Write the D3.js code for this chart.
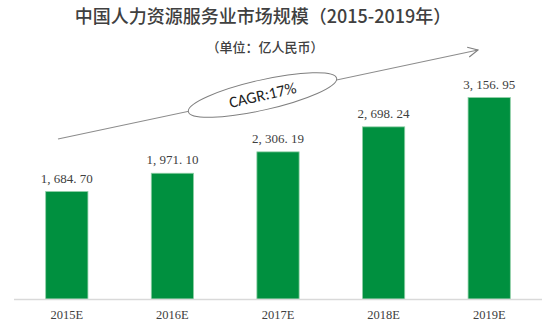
<!DOCTYPE html>
<html>
<head>
<meta charset="utf-8">
<script src="https://cdn.jsdelivr.net/npm/d3@7/dist/d3.min.js"></script>
<style>
  html, body { margin: 0; padding: 0; background: #fff; }
  svg { display: block; }
</style>
</head>
<body>
<svg id="chart" width="546" height="327"></svg>
<script>
// Market size of China's HR services industry, 2015–2019 (100 million RMB)
const years = ["2015E", "2016E", "2017E", "2018E", "2019E"];
const marketSize = [1684.70, 1971.10, 2306.19, 2698.24, 3156.95];
const titleText = "中国人力资源服务业市场规模（2015-2019年）";
const unitText = "（单位：亿人民币）";
const cagrText = "CAGR:17%";

const svg = d3.select("#chart");
const baseY = 299;

const x = d3.scaleBand()
  .domain(years)
  .range([14, 542])
  .paddingInner(0.6)
  .paddingOuter(0.3);

const y = d3.scaleLinear()
  .domain([0, 3500])
  .range([baseY, baseY - 3500 * 0.0638]);

// Title and unit
svg.append("text")
  .attr("x", 263).attr("y", 23)
  .attr("text-anchor", "middle")
  .attr("font-family", "'Noto Sans CJK SC', sans-serif")
  .attr("font-size", 18)
  .attr("font-weight", 500)
  .attr("fill", "#404040")
  .text(titleText);

svg.append("text")
  .attr("x", 265).attr("y", 52)
  .attr("text-anchor", "middle")
  .attr("font-family", "'Noto Sans CJK SC', sans-serif")
  .attr("font-size", 13)
  .attr("font-weight", 500)
  .attr("fill", "#404040")
  .text(unitText);

// Growth arrow with CAGR ellipse
const defs = svg.append("defs");
defs.append("marker")
  .attr("id", "chev")
  .attr("viewBox", "0 0 12 12")
  .attr("refX", 11).attr("refY", 6)
  .attr("markerWidth", 12).attr("markerHeight", 12)
  .attr("markerUnits", "userSpaceOnUse")
  .attr("orient", "auto")
  .append("path")
  .attr("d", "M1,1 L11,6 L1,11")
  .attr("fill", "none")
  .attr("stroke", "#7f7f7f")
  .attr("stroke-width", 1.1);

svg.append("line")
  .attr("x1", 58).attr("y1", 139)
  .attr("x2", 478).attr("y2", 50)
  .attr("stroke", "#8c8c8c")
  .attr("stroke-width", 1.1)
  .attr("marker-end", "url(#chev)");

const cg = svg.append("g").attr("transform", "translate(262.5,95) rotate(-12.8)");
cg.append("ellipse")
  .attr("rx", 76).attr("ry", 15)
  .attr("fill", "#fff")
  .attr("stroke", "#7f7f7f")
  .attr("stroke-width", 1);
cg.append("text")
  .attr("x", 0).attr("y", 5.5)
  .attr("text-anchor", "middle")
  .attr("font-family", "Carlito, 'Open Sans', sans-serif")
  .attr("font-size", 16)
  .attr("fill", "#222")
  .text(cagrText);

// Bars
svg.append("g").selectAll("rect")
  .data(marketSize)
  .join("rect")
  .attr("x", (d, i) => x(years[i]))
  .attr("y", d => y(d))
  .attr("width", x.bandwidth())
  .attr("height", d => baseY - y(d))
  .attr("fill", "#00903f")
  .attr("stroke", "#8fcfa6")
  .attr("stroke-width", 0.8);

// Value labels
const fmt = d3.format(",.2f");
svg.append("g").selectAll("text")
  .data(marketSize)
  .join("text")
  .attr("x", (d, i) => x(years[i]) + x.bandwidth() / 2)
  .attr("y", d => y(d) - 9)
  .attr("text-anchor", "middle")
  .attr("font-family", "'Liberation Serif', serif")
  .attr("font-size", 13)
  .attr("fill", "#404040")
  .text(d => fmt(d).replace(/,/g, ", ").replace(".", ". "));

// X axis
const xAxis = svg.append("g")
  .attr("transform", `translate(0,${baseY})`)
  .call(d3.axisBottom(x).tickSize(0).tickPadding(11));
xAxis.select(".domain")
  .attr("d", "M14,0.5H542")
  .attr("stroke", "#d9d9d9")
  .attr("stroke-width", 1.5);
xAxis.selectAll("text")
  .attr("font-family", "'Liberation Serif', serif")
  .attr("font-size", 12.5)
  .attr("fill", "#404040");
</script>
</body>
</html>
